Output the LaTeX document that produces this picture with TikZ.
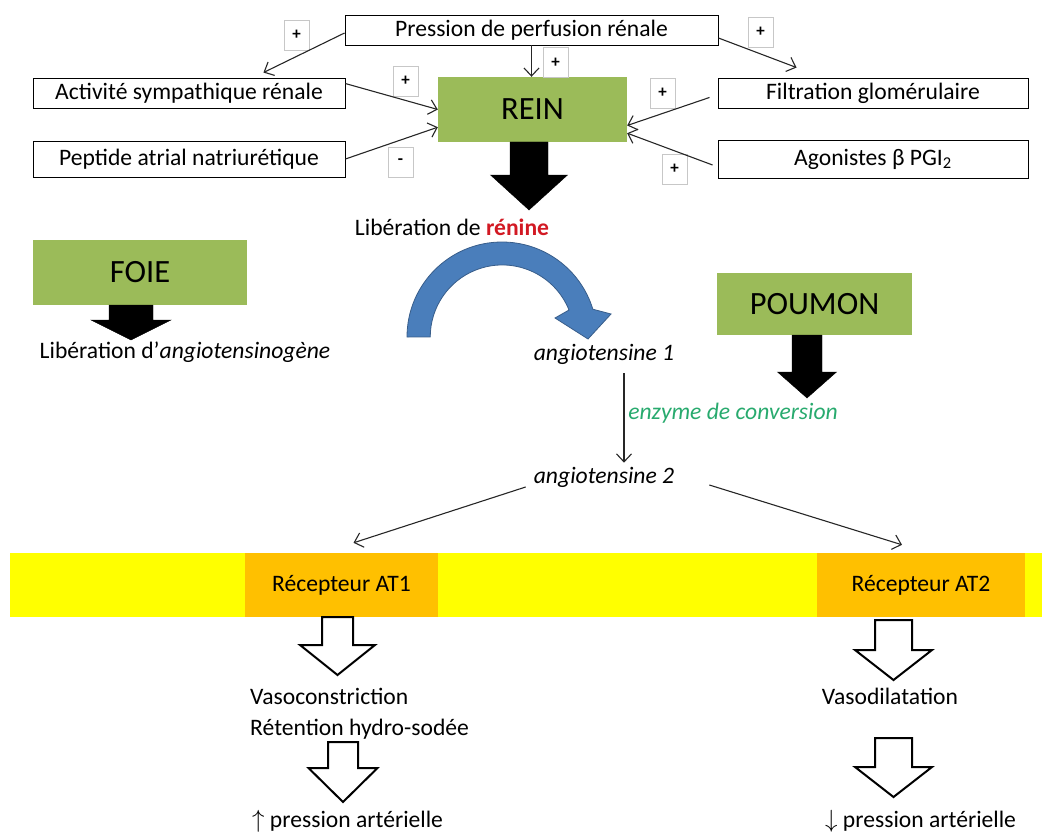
\documentclass[tikz,border=0pt]{standalone}
\usepackage{fontspec}
\setmainfont{Carlito}
\usepackage{tikz}
\usetikzlibrary{arrows.meta}
\usetikzlibrary{calc}

\definecolor{organgreen}{RGB}{155,187,89}
\definecolor{bandyellow}{RGB}{255,255,0}
\definecolor{recorange}{RGB}{255,192,0}
\definecolor{reninred}{RGB}{210,25,35}
\definecolor{enzgreen}{RGB}{40,170,110}
\definecolor{curveblue}{RGB}{74,126,187}
\definecolor{curveedge}{RGB}{56,93,138}

% block arrow pointing down: [style]{x}{top}{head}{tip}{half shaft}{half head}
\newcommand{\fatarrow}[7][]{%
        \draw[#1] (#2-#6,#3) -- (#2+#6,#3) -- (#2+#6,#4) -- (#2+#7,#4) -- (#2,#5) -- (#2-#7,#4) -- (#2-#6,#4) -- cycle;}

\begin{document}
\begin{tikzpicture}[x=1pt, y=-1pt,
        txt/.style={font=\fontsize{23.6}{27}\selectfont, inner sep=0pt},
        itxt/.style={font=\itshape\fontsize{23.6}{27}\selectfont, inner sep=0pt},
        labelbox/.style={draw=black, line width=0.9pt, fill=white, inner sep=0pt, font=\fontsize{23.6}{27}\selectfont},
        signbox/.style={draw=black!22, line width=0.8pt, fill=white, minimum width=25pt, minimum height=30pt, inner sep=0pt, font=\bfseries\fontsize{17}{17}\selectfont},
        organ/.style={fill=organgreen, inner sep=0pt, font=\fontsize{32.5}{36}\selectfont},
        receptor/.style={fill=recorange, inner sep=0pt, minimum height=64pt, font=\fontsize{23.6}{27}\selectfont},
        conn/.style={draw=black!85, line width=1.1pt, -{Straight Barb[length=8pt,width=15pt]}},
        hollow/.style={fill=white, draw=black, line width=2pt, line join=miter}]

        \useasboundingbox (0,0) rectangle (1049,832);

        % facteurs qui agissent sur le rein
        \node[labelbox, minimum width=373pt, minimum height=30pt] (pression) at (531.5,30) {Pression de perfusion rénale};
        \node[labelbox, minimum width=312pt, minimum height=30pt] (activite) at (189,93) {Activité sympathique rénale};
        \node[labelbox, minimum width=312pt, minimum height=36pt] (peptide) at (189,159) {Peptide atrial natriurétique};
        \node[labelbox, minimum width=310pt, minimum height=30pt] (filtration) at (873,93) {Filtration glomérulaire};
        \node[labelbox, minimum width=310pt, minimum height=38pt] (agonistes) at (873,159) {Agonistes β PGI\textsubscript{2}};

        \node[organ, minimum width=189pt, minimum height=65pt] (rein) at (532.5,109.5) {REIN};

        \node[signbox] (s1) at (296.5,35) {+};
        \node[signbox] (s2) at (405.5,81) {+};
        \node[signbox] (s3) at (400.5,162) {-};
        \node[signbox] (s4) at (555.5,62.5) {+};
        \node[signbox] (s5) at (662.5,93) {+};
        \node[signbox] (s6) at (674.5,169) {+};
        \node[signbox] (s7) at (760.5,32) {+};

        \draw[conn] ([yshift=-3pt]pression.west) -- ($(activite.north east)+(-82,-5)$);
        \draw[conn] ([yshift=-8pt]pression.east) -- ($(filtration.north west)+(79,-10)$);
        \draw[conn] (pression.south) -- (pression.south |- rein.north);
        \draw[conn] ($(activite.north east)+(0,6)$) -- (rein.west);
        \draw[conn] (peptide.east) -- ($(rein.south west)+(0,-15)$);
        \draw[conn] ($(filtration.south west)+(-8,-11)$) -- ($(rein.east)+(0,16)$);
        \draw[conn] ($(agonistes.west)+(-5,6)$) -- ($(rein.south east)+(0,-9)$);

        \fatarrow[fill=black]{529}{142}{175}{210}{19}{38.5}
        \node[txt] (librenine) at (452,227) {Libération de \textcolor{reninred}{\textbf{rénine}}};

        % foie
        \node[organ, minimum width=214pt, minimum height=65pt] (foie) at (140,272.5) {FOIE};
        \fatarrow[fill=black]{131}{305}{320}{340}{22}{40}
        \node[txt] (libangio) at (185,352) {Libération d'\textit{angiotensinogène}};

        % renine: angiotensinogene -> angiotensine 1
        \filldraw[fill=curveblue, draw=curveedge, line width=0.8pt]
                (407,337) arc[start angle=180, end angle=343, radius=95]
                -- (611,314) -- (588,339) -- (555,318) -- (569,310)
                arc[start angle=338, end angle=180, radius=72] -- cycle;

        % poumon
        \node[organ, minimum width=195pt, minimum height=62pt] (poumon) at (814.5,304) {POUMON};
        \fatarrow[fill=black]{807}{335}{372}{398}{15}{29.5}

        \node[itxt] (ang1) at (604,354) {angiotensine 1};
        \node[itxt, text=enzgreen] (enzyme) at (733,413) {enzyme de conversion};
        \node[itxt] (ang2) at (604,477) {angiotensine 2};
        \draw[conn] ($(ang1.south)+(20,9)$) -- ($(ang2.north)+(20,-4)$);

        % membrane et recepteurs
        \fill[bandyellow] (10,553) rectangle (1042,617);
        \node[receptor, minimum width=193pt] (at1) at (341.5,585) {Récepteur AT1};
        \node[receptor, minimum width=208pt] (at2) at (921,585) {Récepteur AT2};

        \draw[conn] ($(ang2.west)+(-8,10)$) -- ($(at1.north)+(12,-10)$);
        \draw[conn] ($(ang2.east)+(35,8)$) -- ($(at2.north)+(-19,-8)$);

        % effets AT1
        \fatarrow[hollow]{337.5}{617}{645}{675}{15.5}{37.5}
        \node[txt, anchor=base west] (vaso) at (250,704.5) {Vasoconstriction};
        \node[txt, anchor=base west] (retention) at (250,735.5) {Rétention hydro-sodée};
        \fatarrow[hollow]{343}{742}{768}{802}{15}{34.5}
        \node[txt, anchor=base west] (hausse) at (252,827) {$\uparrow$ pression artérielle};

        % effets AT2
        \fatarrow[hollow]{893.5}{620}{650}{680}{18.5}{38.5}
        \node[txt, anchor=base] (vasodil) at (890,704.5) {Vasodilatation};
        \fatarrow[hollow]{893.5}{738}{767}{797}{18.5}{38.5}
        \node[txt, anchor=base west] (baisse) at (825,827) {$\downarrow$ pression artérielle};

\end{tikzpicture}
\end{document}
